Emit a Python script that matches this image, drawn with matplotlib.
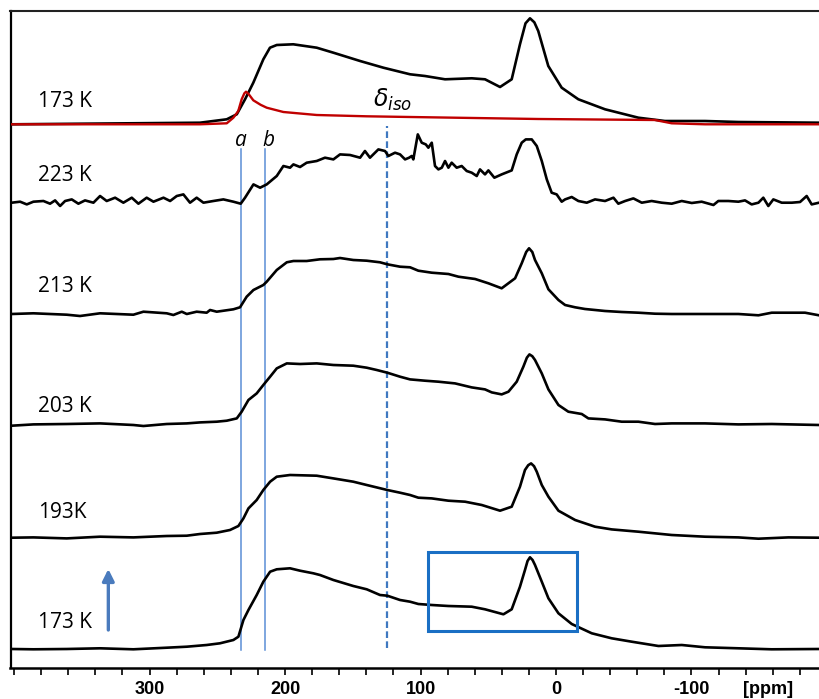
import numpy as np
import matplotlib
matplotlib.use("Agg")
import matplotlib.pyplot as plt
from matplotlib.patches import Rectangle
from matplotlib.ticker import FuncFormatter

# ---------------- data (ppm, intensity a.u.) ----------------
ppm_top = [401.7, 262.7, 243.0, 235.6, 229.5, 223.4, 216.0, 211.1, 206.1, 193.9, 176.6, 164.3,
           144.6, 127.4, 107.7, 96.7, 81.9, 62.2, 52.4, 41.3, 32.7, 26.6, 22.5, 19.2, 16.0, 13.1, 5.7,
           -4.2, -16.5, -36.2, -60.8, -80.4, -110.0, -134.6, -194.1]
int_top = [0, 1.6, 5, 10, 25, 41.6, 65, 76.6, 79.3, 80, 76.6, 71.6,
           63.3, 56.6, 50, 48.3, 45, 46, 45, 37.3, 45, 80, 101, 106, 102, 93.3, 58.3,
           36.6, 25, 15, 6.6, 3.3, 3.3, 2.3, 1.6]

ppm_fit = [401.7, 262.7, 243.0, 238.1, 234.5, 232.0, 230.0, 228.8, 227.0, 223.4, 218.0, 213.5,
           201.2, 176.6, 139.8, 107.7, 13.1, -73.0, -85.4, -110.0, -194.1]
int_fit = [0, 0, 1, 6.6, 13.3, 25, 31, 32.6, 30.5, 24, 19.5, 16.6,
           12.3, 9.3, 8, 7.3, 5.3, 4.3, 1, 0, 0]

ppm_223 = [401.7, 395.5, 390.6, 385.7, 378.3, 373.4, 369.7, 366.0, 362.3, 357.4, 352.5, 347.6,
           341.4, 336.5, 331.6, 325.4, 319.3, 313.1, 308.2, 302.1, 297.1, 289.7, 284.8, 279.9,
           275.0, 270.1, 265.2, 260.2, 252.9, 245.5, 238.1, 232.7, 229.5, 223.3, 218.4, 213.5,
           206.1, 201.2, 196.3, 193.8, 188.9, 184.0, 176.6, 170.5, 164.3, 159.4, 152.0, 144.6,
           141.0, 137.3, 131.1, 126.2, 123.7, 118.8, 115.1, 111.4, 108.4, 106.5, 105.3, 102.0,
           99.1, 96.1, 94.2, 91.7, 89.3, 86.8, 84.3, 81.9, 79.4, 77.0, 73.3, 69.6, 65.9, 62.2,
           58.5, 56.1, 52.4, 49.9, 45.5, 40.1, 32.7, 29.0, 25.3, 22.3, 17.9, 14.2, 10.5, 6.8,
           3.2, -0.5, -4.2, -6.7, -11.6, -16.5, -22.7, -28.8, -36.2, -42.4, -46.0, -51.0, -57.1,
           -63.3, -70.6, -78.0, -85.4, -92.8, -100.2, -107.5, -116.2, -119.8, -127.2, -134.6,
           -139.5, -144.4, -149.4, -153.0, -156.7, -160.4, -166.6, -174.0, -180.1, -185.0,
           -188.7, -194.1]
int_223 = [0, 1, -1.7, 1, 1.7, -1, 2.3, -3.3, 1.7, 3.3, -1, 2.3,
           0, 6.7, 1.7, 5, 0, 5, -1, 5, 1, 5, 1.7, 6.7,
           8.3, 0, 5, 0, 1.7, 3.3, 1, -1, 5, 18.3, 15, 18.3,
           26.7, 36.7, 35, 38.3, 35.7, 40, 41.7, 45, 43.3, 48.3, 47.7, 45,
           51.7, 45, 53.3, 51.7, 46.7, 50, 48.3, 43.3, 45, 46.7, 43.3, 68.3,
           60, 58.3, 55, 60, 36.7, 33.3, 35, 41.7, 35, 40, 35, 36.7, 31.7, 30,
           26.7, 33.3, 28.3, 32.3, 25, 28.3, 32.3, 48.3, 60, 63.3, 63.3, 56.7, 41.7, 23.3,
           10, 8.3, 1, 3.3, 5.7, 1.7, 0, 3.3, 1.7, 5, -1, 1.7, 4.3,
           0, 1.7, 0, -1, 1.7, -0.3, 1, -2.3, 1.7, 1.7, 1,
           2.3, -1.7, 0, 5, -3.3, 3.3, 0, 0, 0.7, 6.7,
           -1.7, 0]

ppm_213 = [401.7, 385.7, 361.1, 351.3, 336.5, 311.9, 304.5, 287.3, 282.4, 276.2, 272.5, 265.2,
           257.8, 255.3, 250.4, 238.1, 233.2, 228.3, 223.3, 216.0, 213.5, 206.1, 198.7, 193.8,
           184.0, 174.2, 164.3, 159.4, 149.6, 139.7, 129.9, 124.5, 115.1, 107.7, 101.6, 91.7,
           79.4, 72.0, 59.7, 49.9, 40.1, 30.2, 25.3, 22.0, 19.9, 17.5, 15.5, 10.5, 5.6, -1.8, -6.7, -14.1,
           -21.4, -36.2, -48.5, -60.8, -73.1, -85.4, -110.0, -134.6, -149.4, -159.2, -183.8, -194.1]
int_213 = [0, 0.7, -0.7, -2, 0.7, -0.7, 2.3, 0.7, -1, 2.3, 0, 2.3,
           1.3, 4, 2.3, 4.7, 6.7, 17.3, 24, 29, 32.3, 44, 51.7, 53,
           53, 54.7, 55, 56, 54, 53.3, 51.7, 49.7, 47.3, 46.7, 43.3, 41.3,
           40, 37.3, 35, 30.7, 25.7, 35.7, 50.7, 62, 65.7, 62, 54, 40.7, 24.7, 14, 9, 6.7,
           5, 3, 2, 1.3, 0.3, 0, 0, 0, -1.3, 1.3, 1.3, -1.3]

ppm_203 = [401.7, 385.7, 361.1, 336.5, 311.9, 304.5, 287.3, 272.5, 262.7, 250.4, 243.0, 235.6,
           232.0, 227.0, 220.9, 216.0, 211.0, 206.1, 198.7, 188.9, 176.6, 164.3, 149.6, 139.7,
           132.3, 124.5, 115.1, 107.7, 96.7, 86.8, 74.5, 62.2, 52.4, 47.4, 40.1, 35.1, 29.0,
           24.1, 21.5, 19.6, 17.5, 15.5, 10.5, 5.6, -1.8, -9.1, -19.0, -23.9, -36.2, -48.5, -60.8, -73.1,
           -85.4, -110.0, -134.6, -159.2, -194.1]
int_203 = [0, 1.3, 1.7, 2.3, 0.7, -0.3, 1.7, 2.3, 3.3, 4, 5, 7.3,
           14, 25.7, 32.3, 40.7, 49, 57.3, 62.3, 61.7, 62.3, 60.7, 60, 58,
           55.7, 53, 49, 46.3, 45, 44, 42.3, 38.3, 36.3, 33.3, 31.3, 34, 44,
           59, 68, 71.3, 69.5, 65.7, 52.3, 36.3, 20.7, 14, 11.7, 7.3, 6.3, 4, 4, 1.7,
           2.3, 2.3, 1.3, 1.7, 0.7]

ppm_193 = [401.7, 385.7, 361.1, 336.5, 311.9, 287.3, 272.5, 262.7, 250.4, 240.6, 234.4, 230.7,
           227.0, 220.9, 216.0, 211.0, 206.1, 196.3, 176.6, 164.3, 149.6, 139.7, 124.5, 115.1,
           107.7, 101.6, 91.7, 79.4, 67.1, 54.8, 41.3, 32.7, 26.6, 22.9, 20.5, 18.4, 16.2, 14.2, 10.5, 5.6,
           -1.8, -14.1, -28.8, -41.1, -60.8, -85.4, -110.0, -134.6, -149.4, -171.5, -194.1]
int_193 = [0, 0.3, -0.7, 1, 0.3, 1.7, 2, 3.7, 5, 7.7, 11.7, 19.3,
           29.3, 37.7, 47.7, 56, 61, 62.7, 62, 59.3, 56, 52.7, 47.7, 45,
           42.7, 40, 39.3, 37, 36, 32.7, 27, 31, 51, 67.7, 72.5, 74.3, 71.5, 66, 52.7, 41,
           27, 17.7, 11, 8.3, 6, 2.7, 1, 0.3, -1, 0.3, 0]

ppm_173 = [401.7, 385.7, 361.1, 336.5, 311.9, 287.3, 272.5, 257.8, 248.0, 238.1, 234.4, 230.7,
           227.0, 220.9, 216.0, 211.0, 206.1, 196.3, 188.9, 179.1, 174.2, 164.3, 149.6, 139.7,
           129.9, 124.5, 115.1, 107.7, 101.6, 91.7, 79.4, 62.2, 52.4, 38.8, 32.7, 26.6, 22.9,
           21.0, 19.2, 17.3, 15.5, 10.5, 5.6, -1.8, -11.6, -26.4, -41.1, -55.9, -75.6, -92.8, -110.0,
           -134.6, -159.2, -194.1]
int_173 = [0, -0.3, 0, 0.7, -0.3, 1.3, 2.3, 4, 5.7, 9, 12.3, 29,
           39, 54, 67.3, 77.3, 79.7, 80.7, 78.3, 75.7, 74, 69, 63, 59.7,
           54, 53.3, 49, 47.3, 45, 44, 43, 42.3, 39.7, 34.7, 39.7, 62.3, 79,
           88, 91.7, 89, 84, 67.3, 50.7, 35.7, 25, 15.7, 10.7, 7.3, 3, 4, 1.7,
           0.7, -0.3, 0]

temps = ["173 K", "223 K", "213 K", "203 K", "193K", "173 K"]
line_a, line_b, line_iso = 232.7, 214.6, 125.0
box_ppm = (94.2, -15.3)
major_ticks = [300, 200, 100, 0, -100]

# ---------------- layout ----------------
offsets = [543.7, 465.3, 354.0, 242.3, 130.3, 19.0]
label_y = [561.0, 487.0, 376.3, 256.3, 150.0, 39.7]

W, H = 819, 699
fig = plt.figure(figsize=(W / 100, H / 100), dpi=100)
ax = fig.add_axes([10.5 / W, 31 / H, (W - 10.5) / W, 657 / H])
ax.set_xlim(402.6, -194.1)
ax.set_ylim(0, 657)

spectra = [(ppm_top, int_top), (ppm_223, int_223), (ppm_213, int_213),
           (ppm_203, int_203), (ppm_193, int_193), (ppm_173, int_173)]
for (p, v), off in zip(spectra, offsets):
    ax.plot(p, np.asarray(v) + off, color="black", lw=1.9,
            solid_joinstyle="round", zorder=3)
ax.plot(ppm_fit, np.asarray(int_fit) + offsets[0], color="#c00000", lw=1.7,
        solid_joinstyle="round", zorder=4)

lab_font = dict(family="Open Sans", fontsize=15)
for t, y in zip(temps, label_y):
    ax.text(382.3, y, t, ha="left", va="baseline", **lab_font)

# marker lines
ax.plot([line_a, line_a], [18, 519], color="#5b8ed6", lw=1.1, zorder=2)
ax.plot([line_b, line_b], [18, 519], color="#5b8ed6", lw=1.1, zorder=2)
ax.plot([line_iso, line_iso], [20, 542], color="#3f78c0", lw=1.6, ls=(0, (3, 1.5)), zorder=2)
ax.text(line_a, 522, "a", ha="center", va="baseline", style="italic",
        family="Open Sans", fontsize=15)
ax.text(212.5, 522, "b", ha="center", va="baseline", style="italic",
        family="Open Sans", fontsize=15)
ax.text(121, 561, r"$\delta_{iso}$", ha="center", va="baseline", fontsize=17)

ax.add_patch(Rectangle((box_ppm[0], 37.3), box_ppm[1] - box_ppm[0], 79,
                       fill=False, edgecolor="#1a6fc4", lw=2.2, zorder=5))
ax.annotate("", xy=(330.4, 99), xytext=(330.4, 38),
            arrowprops=dict(arrowstyle="-|>,head_width=0.35,head_length=0.7",
                            color="#4a7bbd", lw=2.4, shrinkA=0, shrinkB=0))

# axes styling
ax.spines["right"].set_visible(False)
ax.spines["left"].set_linewidth(1.6)
ax.spines["bottom"].set_linewidth(1.8)
ax.spines["top"].set_linewidth(1.5)
ax.spines["top"].set_color("#222222")
ax.set_yticks([])
ax.set_xticks(major_ticks)
ax.set_xticks(np.arange(-180, 401, 20), minor=True)
ax.xaxis.set_major_formatter(FuncFormatter(lambda v, pos: f"{v:.0f}"))
ax.tick_params(axis="x", which="both", direction="out", length=5, width=1.2, color="black")
ax.tick_params(axis="x", which="major", pad=4)
tick_font = dict(family=["Liberation Sans Narrow", "Liberation Sans"], weight="bold", size=13)
for lbl in ax.get_xticklabels():
    lbl.set_fontfamily(tick_font["family"])
    lbl.set_fontweight("bold")
    lbl.set_fontsize(tick_font["size"])
ax.text(-156.5, -0.032, "[ppm]", transform=ax.get_xaxis_transform(), ha="center",
        va="center", family=tick_font["family"], fontweight="bold", fontsize=13)

fig.savefig("out.png", dpi=100)
